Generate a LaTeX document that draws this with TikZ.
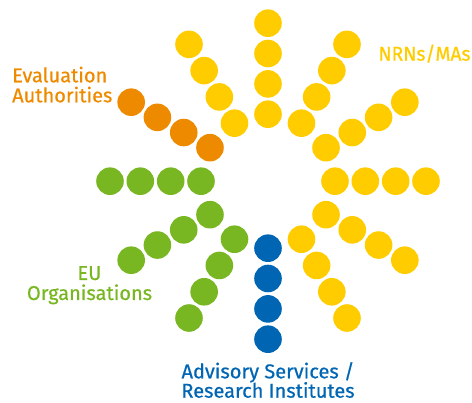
\documentclass[tikz,border=0pt]{standalone}
\usepackage{fontspec}
\setmainfont{Fira Sans}[FakeBold=0.6]
\usetikzlibrary{calc}
\definecolor{euyellow}{HTML}{FFCC00}
\definecolor{euorange}{HTML}{EE8A00}
\definecolor{eugreen}{HTML}{78B721}
\definecolor{eublue}{HTML}{0065B3}
\begin{document}
\begin{tikzpicture}[x=1pt,y=1pt,
  dot/.style={circle,inner sep=0pt,minimum size=27.6pt,fill=#1,draw=none},
  lbl/.style={inner sep=0pt,font=\fontsize{20}{20}\selectfont,text=#1}]
\useasboundingbox (0,0) rectangle (472,403);
\coordinate (c) at (268,221.8);
% arms: angle / colour
\foreach \a/\col in {0/euyellow,30/euyellow,60/euyellow,90/euyellow,120/euyellow,
                     150/euorange,180/eugreen,210/eugreen,240/eugreen,
                     270/eublue,300/euyellow,330/euyellow}{
  \foreach \i/\r in {1/67,2/97.3,3/127.7,4/158}{
    \node[dot=\col] (d\a-\i) at ($(c)+(\a:\r)$) {};
  }
}
\node[lbl=euorange,anchor=base west] (evalA) at (12,320.7) {Evaluation};
\node[lbl=euorange,anchor=base west] (evalB) at (12,300.7) {Authorities};
\node[lbl=euyellow,anchor=base west] (nrn) at (378.3,342.3) {\resizebox{92pt}{\height}{NRNs/MAs}};
\node[lbl=eugreen,anchor=base] (euA) at (89.5,123) {EU};
\node[lbl=eugreen,anchor=base] (euB) at (89.5,103) {Organisations};
\node[lbl=eublue,anchor=base] (advA) at (268,24.7) {Advisory Services /};
\node[lbl=eublue,anchor=base] (advB) at (268,5.3) {Research Institutes};
\end{tikzpicture}
\end{document}
